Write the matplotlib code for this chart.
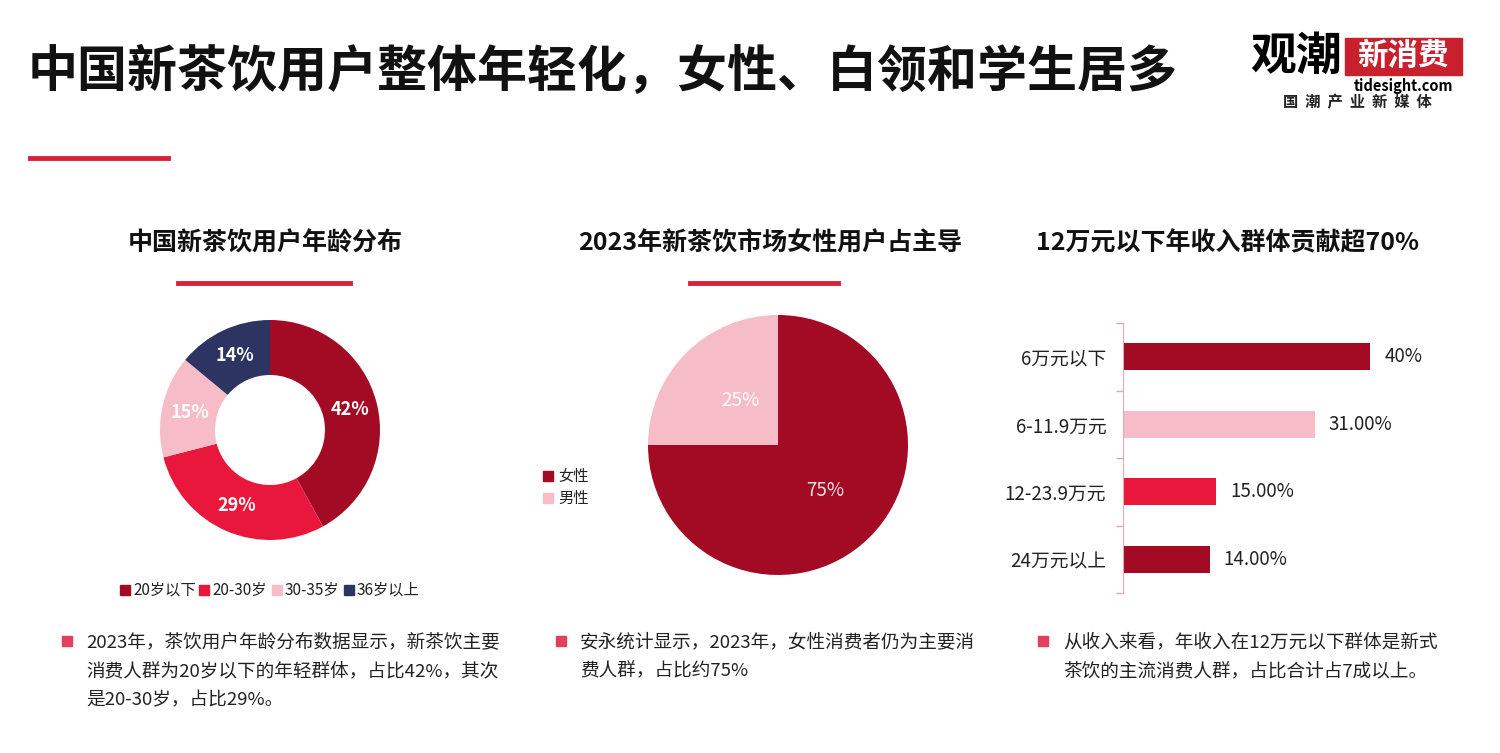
import matplotlib
matplotlib.use("Agg")
import matplotlib.pyplot as plt
from matplotlib.patches import Rectangle

plt.rcParams['font.family'] = ['Noto Sans CJK SC', 'DejaVu Sans']

W, H = 1500, 753

# data
title = '中国新茶饮用户整体年轻化，女性、白领和学生居多'

age_labels = ['20岁以下', '20-30岁', '30-35岁', '36岁以上']
age_values = [42, 29, 15, 14]

gender_labels = ['女性', '男性']
gender_values = [75, 25]

income_labels = ['6万元以下', '6-11.9万元', '12-23.9万元', '24万元以上']
income_values = [40, 31, 15, 14]
income_texts = ['40%', '31.00%', '15.00%', '14.00%']

sub_titles = ['中国新茶饮用户年龄分布', '2023年新茶饮市场女性用户占主导', '12万元以下年收入群体贡献超70%']
notes = [
    ['2023年，茶饮用户年龄分布数据显示，新茶饮主要', '消费人群为20岁以下的年轻群体，占比42%，其次', '是20-30岁，占比29%。'],
    ['安永统计显示，2023年，女性消费者仍为主要消', '费人群，占比约75%'],
    ['从收入来看，年收入在12万元以下群体是新式', '茶饮的主流消费人群，占比合计占7成以上。'],
]

DARK = '#a30a24'
RED = '#e8173b'
PINK = '#f6bcc7'
NAVY = '#2d3461'
age_colors = [DARK, RED, PINK, NAVY]
gender_colors = [DARK, PINK]
income_colors = [DARK, PINK, RED, DARK]


def fx(x):
    return x / W


def fy(y):
    return 1 - y / H


def box(left, top, width, height):
    return [left / W, 1 - (top + height) / H, width / W, height / H]


fig = plt.figure(figsize=(15, 7.53), dpi=100)
fig.patch.set_facecolor('white')

# title and red line
fig.text(fx(28), fy(72), title, fontsize=36, fontweight='bold', color='#111111', va='center', ha='left')
fig.add_artist(plt.Line2D([fx(30), fx(168)], [fy(158), fy(158)], color='#d9213b', lw=3.5))

# logo
fig.text(fx(1250), fy(57), '观潮', fontsize=33, fontweight='heavy', color='black', va='center', ha='left')
fig.add_artist(Rectangle((fx(1345), fy(75)), fx(117), 37 / H, color='#c8202c'))
fig.text(fx(1403), fy(56), '新消费', fontsize=22, fontweight='heavy', color='white', va='center', ha='center')
fig.text(fx(1403), fy(86), 'tidesight.com', fontsize=10.5, fontweight='bold', color='black', va='center', ha='center')
fig.text(fx(1357), fy(102), '国  潮  产  业  新  媒  体', fontsize=11, fontweight='bold', color='#222222', va='center', ha='center')

# subtitles and underlines
for cx, t in zip([265, 770, 1227], sub_titles):
    fig.text(fx(cx), fy(243), t, fontsize=18, fontweight='bold', color='#111111', va='center', ha='center')
fig.add_artist(plt.Line2D([fx(178), fx(350)], [fy(283), fy(283)], color='#d9213b', lw=3.5))
fig.add_artist(plt.Line2D([fx(690), fx(838)], [fy(283), fy(283)], color='#d9213b', lw=3.5))

# donut
ax1 = fig.add_axes(box(160, 320, 220, 220))
wedges, texts, autotexts = ax1.pie(age_values, colors=age_colors, startangle=90, counterclock=False,
                                   radius=1, wedgeprops=dict(width=0.5, edgecolor='none'),
                                   autopct='%d%%', pctdistance=0.75,
                                   textprops=dict(color='white', fontsize=13, fontweight='bold'))
ax1.set_xlim(-1, 1)
ax1.set_ylim(-1, 1)
ax1.axis('off')

# donut legend
lx = 120
for lab, col in zip(age_labels, age_colors):
    fig.add_artist(Rectangle((fx(lx), fy(595)), 10 / W, 10 / H, color=col))
    fig.text(fx(lx + 13), fy(590), lab, fontsize=11, color='#222222', va='center', ha='left')
    lx += 13 + len(lab.encode('gbk')) * 7.3 + 8

# gender pie
ax2 = fig.add_axes(box(648, 315, 260, 260))
ax2.pie(gender_values, colors=gender_colors, startangle=90, counterclock=False, radius=1,
        wedgeprops=dict(edgecolor='none'))
ax2.set_xlim(-1, 1)
ax2.set_ylim(-1, 1)
ax2.axis('off')
ax2.text(0.36, -0.35, '%d%%' % gender_values[0], color='#f8dde2', fontsize=13.5, ha='center', va='center')
ax2.text(-0.29, 0.34, '%d%%' % gender_values[1], color='white', fontsize=13.5, ha='center', va='center')

for i, (lab, col) in enumerate(zip(gender_labels, gender_colors)):
    y = 476 + i * 22
    fig.add_artist(Rectangle((fx(543), fy(y + 5)), 10 / W, 10 / H, color=col))
    fig.text(fx(558), fy(y), lab, fontsize=11, color='#222222', va='center', ha='left')

# income bars
ax3 = fig.add_axes(box(1123, 323, 309, 270))
ypos = list(range(len(income_labels)))
ax3.barh(ypos, income_values, height=0.4, color=income_colors)
ax3.set_ylim(len(income_labels) - 0.5, -0.5)
ax3.set_xlim(0, 50)
ax3.set_yticks(ypos)
ax3.set_yticklabels(income_labels, fontsize=13.5, color='#222222')
ax3.set_yticks([i - 0.5 for i in range(len(income_labels) + 1)], minor=True)
ax3.tick_params(axis='y', which='major', length=0, pad=12)
ax3.tick_params(axis='y', which='minor', length=5, color='#e3a9b1', width=1)
ax3.set_xticks([])
for s in ['top', 'right', 'bottom']:
    ax3.spines[s].set_visible(False)
ax3.spines['left'].set_color('#e3a9b1')
for i, (v, t) in enumerate(zip(income_values, income_texts)):
    ax3.text(v + 2.3, i, t, fontsize=13.5, color='#222222', va='center', ha='left')

# notes
for (bx, tx), lines in zip([(62, 86), (556, 580), (1038, 1063)], notes):
    fig.add_artist(Rectangle((fx(bx), fy(646)), 10 / W, 10 / H, color='#e0405a'))
    for j, line in enumerate(lines):
        fig.text(fx(tx), fy(642 + j * 29), line, fontsize=13.4, color='#222222', va='center', ha='left')

fig.savefig('out.png', dpi=100, facecolor='white')
